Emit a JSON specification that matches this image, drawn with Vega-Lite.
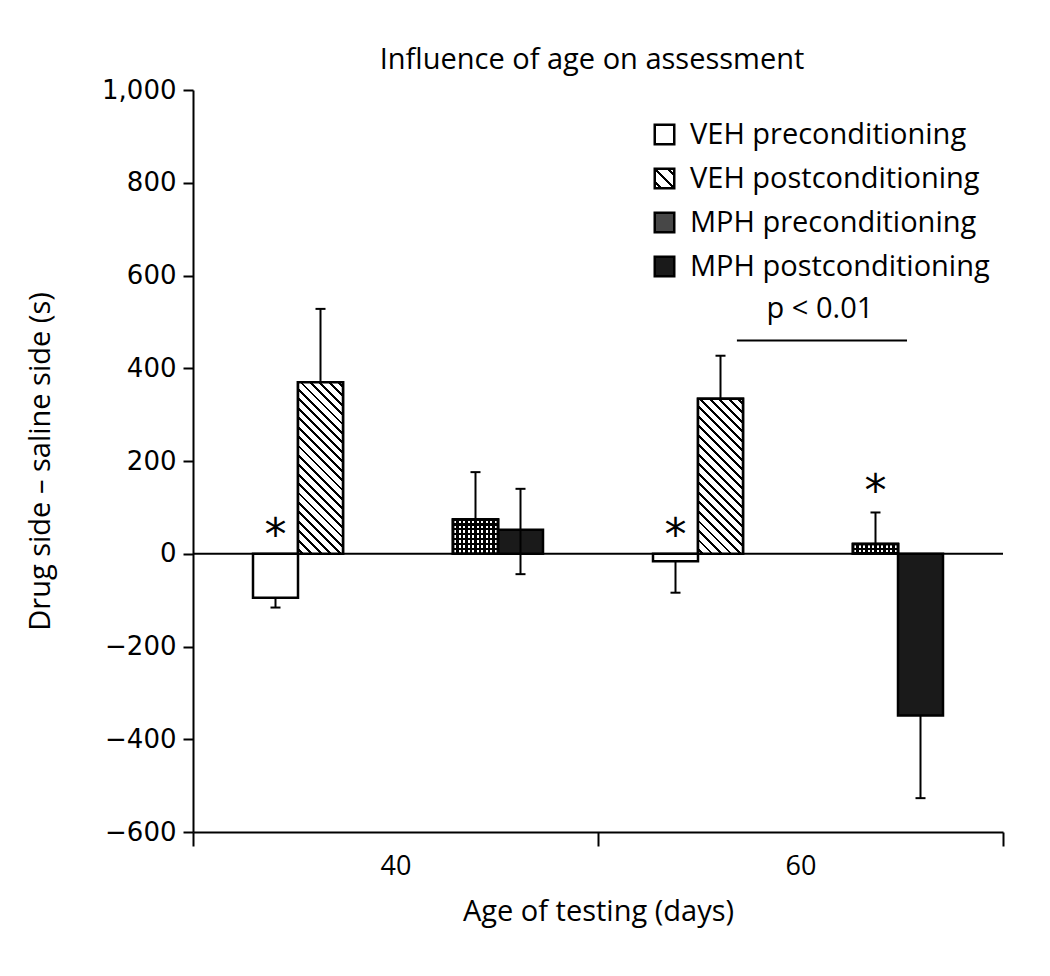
{
  "$schema": "https://vega.github.io/schema/vega-lite/v6.json",
  "width": 810,
  "height": 742,
  "autosize": {"type": "none"},
  "padding": {"left": 193, "top": 90, "right": 47, "bottom": 144},
  "background": "white",
  "title": {"text": "Influence of age on assessment", "font": "Open Sans", "fontSize": 29, "fontWeight": "normal", "color": "black", "anchor": "middle", "offset": 2, "dx": -6},
  "datasets": {
    "bars": [
      {"slot": "40 VEH", "phase": "pre", "series": "VEH preconditioning", "value": -95, "e1": -116, "e2": -95, "cap2": null, "star": 58},
      {"slot": "40 VEH", "phase": "post", "series": "VEH postconditioning", "value": 370, "e1": 528, "e2": 370, "cap2": null, "star": null},
      {"slot": "40 MPH", "phase": "pre", "series": "MPH preconditioning", "value": 74, "e1": 176, "e2": 74, "cap2": null, "star": null},
      {"slot": "40 MPH", "phase": "post", "series": "MPH postconditioning", "value": 52, "e1": 140, "e2": -44, "cap2": -44, "star": null},
      {"slot": "60 VEH", "phase": "pre", "series": "VEH preconditioning", "value": -16, "e1": -84, "e2": -16, "cap2": null, "star": 58},
      {"slot": "60 VEH", "phase": "post", "series": "VEH postconditioning", "value": 334, "e1": 427, "e2": 334, "cap2": null, "star": null},
      {"slot": "60 MPH", "phase": "pre", "series": "MPH preconditioning", "value": 21, "e1": 89, "e2": 21, "cap2": null, "star": 152},
      {"slot": "60 MPH", "phase": "post", "series": "MPH postconditioning", "value": -349, "e1": -527, "e2": -349, "cap2": null, "star": null}
    ],
    "notes": [
      {"age": "60", "label": "p < 0.01", "ly": 460, "ty": 508}
    ]
  },
  "layer": [
    {
      "layer": [
        {
          "data": {"values": [{}]},
          "mark": {"type": "rule", "strokeWidth": 2, "color": "black"},
          "encoding": {"y": {"datum": 0, "type": "quantitative", "title": "Drug side – saline side (s)", "scale": {"domain": [-600, 1000], "nice": false},
            "axis": {"values": [-600, -400, -200, 0, 200, 400, 600, 800, 1000], "format": ",.0f", "title": "Drug side – saline side (s)", "labelFont": "DejaVu Sans", "labelFontSize": 26}}}
        },
        {
          "data": {"name": "bars"},
          "mark": {"type": "bar", "stroke": "black", "strokeWidth": 2.5},
          "encoding": {
            "x": {"field": "slot", "type": "nominal", "scale": {"type": "band", "domain": ["40 VEH", "40 MPH", "60 VEH", "60 MPH"], "paddingInner": 0.55, "paddingOuter": 0.3}, "axis": null},
            "xOffset": {"field": "phase", "type": "nominal", "scale": {"domain": ["pre", "post"], "paddingInner": 0, "paddingOuter": 0}},
            "y": {"field": "value", "type": "quantitative", "title": "Drug side – saline side (s)", "scale": {"domain": [-600, 1000], "nice": false},
              "axis": {"values": [-600, -400, -200, 0, 200, 400, 600, 800, 1000], "format": ",.0f", "title": "Drug side – saline side (s)", "labelFont": "DejaVu Sans", "labelFontSize": 26}},
            "fill": {"field": "series", "type": "nominal",
              "scale": {"domain": ["VEH preconditioning", "VEH postconditioning", "MPH preconditioning", "MPH postconditioning"],
                "range": ["white", {"expr": "{gradient: 'linear', x1: 0, y1: 1, x2: 1, y2: 0, stops: [{offset: 0, color: 'white'}, {offset: 0.125, color: 'white'}, {offset: 0.125, color: 'black'}, {offset: 0.215, color: 'black'}, {offset: 0.215, color: 'white'}, {offset: 0.455, color: 'white'}, {offset: 0.455, color: 'black'}, {offset: 0.545, color: 'black'}, {offset: 0.545, color: 'white'}, {offset: 0.785, color: 'white'}, {offset: 0.785, color: 'black'}, {offset: 0.875, color: 'black'}, {offset: 0.875, color: 'white'}, {offset: 1, color: 'white'}]}"}, "#474747", "#1a1a1a"]},
              "legend": {"orient": "none", "legendX": 457, "legendY": 30, "title": null, "symbolType": "square", "symbolSize": 380, "symbolStrokeColor": "black", "symbolStrokeWidth": 2.5, "labelFont": "Open Sans", "labelFontSize": 29, "labelColor": "black", "labelOffset": 11, "labelLimit": 500, "rowPadding": 13, "padding": 0}}
          }
        },
        {
          "data": {"name": "bars"},
          "transform": [{"filter": "datum.slot === '40 VEH' && datum.phase === 'post'"}],
          "mark": {"type": "bar", "stroke": "black", "strokeWidth": 2.5, "fill": {"gradient": "linear", "x1": 0, "y1": 1, "x2": 0.3097, "y2": -0.1811, "stops": [
            {"offset": 0, "color": "white"},
            {"offset": 0.0152, "color": "white"}, {"offset": 0.0152, "color": "black"}, {"offset": 0.0282, "color": "black"}, {"offset": 0.0282, "color": "white"},
            {"offset": 0.0587, "color": "white"}, {"offset": 0.0587, "color": "black"}, {"offset": 0.0717, "color": "black"}, {"offset": 0.0717, "color": "white"},
            {"offset": 0.1022, "color": "white"}, {"offset": 0.1022, "color": "black"}, {"offset": 0.1152, "color": "black"}, {"offset": 0.1152, "color": "white"},
            {"offset": 0.1457, "color": "white"}, {"offset": 0.1457, "color": "black"}, {"offset": 0.1587, "color": "black"}, {"offset": 0.1587, "color": "white"},
            {"offset": 0.1892, "color": "white"}, {"offset": 0.1892, "color": "black"}, {"offset": 0.2022, "color": "black"}, {"offset": 0.2022, "color": "white"},
            {"offset": 0.2326, "color": "white"}, {"offset": 0.2326, "color": "black"}, {"offset": 0.2456, "color": "black"}, {"offset": 0.2456, "color": "white"},
            {"offset": 0.2761, "color": "white"}, {"offset": 0.2761, "color": "black"}, {"offset": 0.2891, "color": "black"}, {"offset": 0.2891, "color": "white"},
            {"offset": 0.3196, "color": "white"}, {"offset": 0.3196, "color": "black"}, {"offset": 0.3326, "color": "black"}, {"offset": 0.3326, "color": "white"},
            {"offset": 0.3631, "color": "white"}, {"offset": 0.3631, "color": "black"}, {"offset": 0.3761, "color": "black"}, {"offset": 0.3761, "color": "white"},
            {"offset": 0.4065, "color": "white"}, {"offset": 0.4065, "color": "black"}, {"offset": 0.4195, "color": "black"}, {"offset": 0.4195, "color": "white"},
            {"offset": 0.4500, "color": "white"}, {"offset": 0.4500, "color": "black"}, {"offset": 0.4630, "color": "black"}, {"offset": 0.4630, "color": "white"},
            {"offset": 0.4935, "color": "white"}, {"offset": 0.4935, "color": "black"}, {"offset": 0.5065, "color": "black"}, {"offset": 0.5065, "color": "white"},
            {"offset": 0.5370, "color": "white"}, {"offset": 0.5370, "color": "black"}, {"offset": 0.5500, "color": "black"}, {"offset": 0.5500, "color": "white"},
            {"offset": 0.5805, "color": "white"}, {"offset": 0.5805, "color": "black"}, {"offset": 0.5935, "color": "black"}, {"offset": 0.5935, "color": "white"},
            {"offset": 0.6239, "color": "white"}, {"offset": 0.6239, "color": "black"}, {"offset": 0.6369, "color": "black"}, {"offset": 0.6369, "color": "white"},
            {"offset": 0.6674, "color": "white"}, {"offset": 0.6674, "color": "black"}, {"offset": 0.6804, "color": "black"}, {"offset": 0.6804, "color": "white"},
            {"offset": 0.7109, "color": "white"}, {"offset": 0.7109, "color": "black"}, {"offset": 0.7239, "color": "black"}, {"offset": 0.7239, "color": "white"},
            {"offset": 0.7544, "color": "white"}, {"offset": 0.7544, "color": "black"}, {"offset": 0.7674, "color": "black"}, {"offset": 0.7674, "color": "white"},
            {"offset": 0.7978, "color": "white"}, {"offset": 0.7978, "color": "black"}, {"offset": 0.8108, "color": "black"}, {"offset": 0.8108, "color": "white"},
            {"offset": 0.8413, "color": "white"}, {"offset": 0.8413, "color": "black"}, {"offset": 0.8543, "color": "black"}, {"offset": 0.8543, "color": "white"},
            {"offset": 0.8848, "color": "white"}, {"offset": 0.8848, "color": "black"}, {"offset": 0.8978, "color": "black"}, {"offset": 0.8978, "color": "white"},
            {"offset": 0.9283, "color": "white"}, {"offset": 0.9283, "color": "black"}, {"offset": 0.9413, "color": "black"}, {"offset": 0.9413, "color": "white"},
            {"offset": 0.9718, "color": "white"}, {"offset": 0.9718, "color": "black"}, {"offset": 0.9848, "color": "black"}, {"offset": 0.9848, "color": "white"},
            {"offset": 1, "color": "white"}]}},
          "encoding": {
            "x": {"field": "slot", "type": "nominal", "axis": null},
            "xOffset": {"field": "phase", "type": "nominal"},
            "y": {"field": "value", "type": "quantitative", "title": "Drug side – saline side (s)"}
          }
        },
        {
          "data": {"name": "bars"},
          "transform": [{"filter": "datum.slot === '60 VEH' && datum.phase === 'post'"}],
          "mark": {"type": "bar", "stroke": "black", "strokeWidth": 2.5, "fill": {"gradient": "linear", "x1": 0, "y1": 1, "x2": 0.3458, "y2": -0.1901, "stops": [
            {"offset": 0, "color": "white"},
            {"offset": 0.0167, "color": "white"}, {"offset": 0.0167, "color": "black"}, {"offset": 0.0309, "color": "black"}, {"offset": 0.0309, "color": "white"},
            {"offset": 0.0643, "color": "white"}, {"offset": 0.0643, "color": "black"}, {"offset": 0.0785, "color": "black"}, {"offset": 0.0785, "color": "white"},
            {"offset": 0.1119, "color": "white"}, {"offset": 0.1119, "color": "black"}, {"offset": 0.1261, "color": "black"}, {"offset": 0.1261, "color": "white"},
            {"offset": 0.1596, "color": "white"}, {"offset": 0.1596, "color": "black"}, {"offset": 0.1738, "color": "black"}, {"offset": 0.1738, "color": "white"},
            {"offset": 0.2072, "color": "white"}, {"offset": 0.2072, "color": "black"}, {"offset": 0.2214, "color": "black"}, {"offset": 0.2214, "color": "white"},
            {"offset": 0.2548, "color": "white"}, {"offset": 0.2548, "color": "black"}, {"offset": 0.2690, "color": "black"}, {"offset": 0.2690, "color": "white"},
            {"offset": 0.3024, "color": "white"}, {"offset": 0.3024, "color": "black"}, {"offset": 0.3166, "color": "black"}, {"offset": 0.3166, "color": "white"},
            {"offset": 0.3500, "color": "white"}, {"offset": 0.3500, "color": "black"}, {"offset": 0.3642, "color": "black"}, {"offset": 0.3642, "color": "white"},
            {"offset": 0.3977, "color": "white"}, {"offset": 0.3977, "color": "black"}, {"offset": 0.4119, "color": "black"}, {"offset": 0.4119, "color": "white"},
            {"offset": 0.4453, "color": "white"}, {"offset": 0.4453, "color": "black"}, {"offset": 0.4595, "color": "black"}, {"offset": 0.4595, "color": "white"},
            {"offset": 0.4929, "color": "white"}, {"offset": 0.4929, "color": "black"}, {"offset": 0.5071, "color": "black"}, {"offset": 0.5071, "color": "white"},
            {"offset": 0.5405, "color": "white"}, {"offset": 0.5405, "color": "black"}, {"offset": 0.5547, "color": "black"}, {"offset": 0.5547, "color": "white"},
            {"offset": 0.5881, "color": "white"}, {"offset": 0.5881, "color": "black"}, {"offset": 0.6023, "color": "black"}, {"offset": 0.6023, "color": "white"},
            {"offset": 0.6358, "color": "white"}, {"offset": 0.6358, "color": "black"}, {"offset": 0.6500, "color": "black"}, {"offset": 0.6500, "color": "white"},
            {"offset": 0.6834, "color": "white"}, {"offset": 0.6834, "color": "black"}, {"offset": 0.6976, "color": "black"}, {"offset": 0.6976, "color": "white"},
            {"offset": 0.7310, "color": "white"}, {"offset": 0.7310, "color": "black"}, {"offset": 0.7452, "color": "black"}, {"offset": 0.7452, "color": "white"},
            {"offset": 0.7786, "color": "white"}, {"offset": 0.7786, "color": "black"}, {"offset": 0.7928, "color": "black"}, {"offset": 0.7928, "color": "white"},
            {"offset": 0.8262, "color": "white"}, {"offset": 0.8262, "color": "black"}, {"offset": 0.8404, "color": "black"}, {"offset": 0.8404, "color": "white"},
            {"offset": 0.8739, "color": "white"}, {"offset": 0.8739, "color": "black"}, {"offset": 0.8881, "color": "black"}, {"offset": 0.8881, "color": "white"},
            {"offset": 0.9215, "color": "white"}, {"offset": 0.9215, "color": "black"}, {"offset": 0.9357, "color": "black"}, {"offset": 0.9357, "color": "white"},
            {"offset": 0.9691, "color": "white"}, {"offset": 0.9691, "color": "black"}, {"offset": 0.9833, "color": "black"}, {"offset": 0.9833, "color": "white"},
            {"offset": 1, "color": "white"}]}},
          "encoding": {
            "x": {"field": "slot", "type": "nominal", "axis": null},
            "xOffset": {"field": "phase", "type": "nominal"},
            "y": {"field": "value", "type": "quantitative", "title": "Drug side – saline side (s)"}
          }
        },
        {
          "data": {"name": "bars"},
          "transform": [{"filter": "datum.series === 'MPH preconditioning'"}],
          "mark": {"type": "bar", "stroke": "black", "strokeWidth": 2.5, "fill": {"gradient": "linear", "x1": 0, "y1": 0, "x2": 1, "y2": 0, "stops": [
            {"offset": 0, "color": "black"},
            {"offset": 0.025, "color": "black"}, {"offset": 0.025, "color": "white"}, {"offset": 0.075, "color": "white"}, {"offset": 0.075, "color": "black"},
            {"offset": 0.125, "color": "black"}, {"offset": 0.125, "color": "white"}, {"offset": 0.175, "color": "white"}, {"offset": 0.175, "color": "black"},
            {"offset": 0.225, "color": "black"}, {"offset": 0.225, "color": "white"}, {"offset": 0.275, "color": "white"}, {"offset": 0.275, "color": "black"},
            {"offset": 0.325, "color": "black"}, {"offset": 0.325, "color": "white"}, {"offset": 0.375, "color": "white"}, {"offset": 0.375, "color": "black"},
            {"offset": 0.425, "color": "black"}, {"offset": 0.425, "color": "white"}, {"offset": 0.475, "color": "white"}, {"offset": 0.475, "color": "black"},
            {"offset": 0.525, "color": "black"}, {"offset": 0.525, "color": "white"}, {"offset": 0.575, "color": "white"}, {"offset": 0.575, "color": "black"},
            {"offset": 0.625, "color": "black"}, {"offset": 0.625, "color": "white"}, {"offset": 0.675, "color": "white"}, {"offset": 0.675, "color": "black"},
            {"offset": 0.725, "color": "black"}, {"offset": 0.725, "color": "white"}, {"offset": 0.775, "color": "white"}, {"offset": 0.775, "color": "black"},
            {"offset": 0.825, "color": "black"}, {"offset": 0.825, "color": "white"}, {"offset": 0.875, "color": "white"}, {"offset": 0.875, "color": "black"},
            {"offset": 0.925, "color": "black"}, {"offset": 0.925, "color": "white"}, {"offset": 0.975, "color": "white"}, {"offset": 0.975, "color": "black"},
            {"offset": 1, "color": "black"}]}},
          "encoding": {
            "x": {"field": "slot", "type": "nominal", "axis": null},
            "xOffset": {"field": "phase", "type": "nominal"},
            "y": {"field": "value", "type": "quantitative", "title": "Drug side – saline side (s)"}
          }
        },
        {
          "data": {"name": "bars"},
          "transform": [{"filter": "datum.slot === '40 MPH' && datum.phase === 'pre'"}],
          "mark": {"type": "bar", "stroke": "black", "strokeWidth": 2.5, "fill": {"gradient": "linear", "x1": 0, "y1": 0, "x2": 0, "y2": 1, "stops": [
            {"offset": 0, "color": "black"},
            {"offset": 0.0364, "color": "black"}, {"offset": 0.0364, "color": "rgba(0,0,0,0)"}, {"offset": 0.1064, "color": "rgba(0,0,0,0)"}, {"offset": 0.1064, "color": "black"},
            {"offset": 0.1793, "color": "black"}, {"offset": 0.1793, "color": "rgba(0,0,0,0)"}, {"offset": 0.2493, "color": "rgba(0,0,0,0)"}, {"offset": 0.2493, "color": "black"},
            {"offset": 0.3221, "color": "black"}, {"offset": 0.3221, "color": "rgba(0,0,0,0)"}, {"offset": 0.3921, "color": "rgba(0,0,0,0)"}, {"offset": 0.3921, "color": "black"},
            {"offset": 0.4650, "color": "black"}, {"offset": 0.4650, "color": "rgba(0,0,0,0)"}, {"offset": 0.5350, "color": "rgba(0,0,0,0)"}, {"offset": 0.5350, "color": "black"},
            {"offset": 0.6079, "color": "black"}, {"offset": 0.6079, "color": "rgba(0,0,0,0)"}, {"offset": 0.6779, "color": "rgba(0,0,0,0)"}, {"offset": 0.6779, "color": "black"},
            {"offset": 0.7507, "color": "black"}, {"offset": 0.7507, "color": "rgba(0,0,0,0)"}, {"offset": 0.8207, "color": "rgba(0,0,0,0)"}, {"offset": 0.8207, "color": "black"},
            {"offset": 0.8936, "color": "black"}, {"offset": 0.8936, "color": "rgba(0,0,0,0)"}, {"offset": 0.9636, "color": "rgba(0,0,0,0)"}, {"offset": 0.9636, "color": "black"},
            {"offset": 1, "color": "black"}]}},
          "encoding": {
            "x": {"field": "slot", "type": "nominal", "axis": null},
            "xOffset": {"field": "phase", "type": "nominal"},
            "y": {"field": "value", "type": "quantitative", "title": "Drug side – saline side (s)"}
          }
        },
        {
          "data": {"name": "bars"},
          "transform": [{"filter": "datum.slot === '60 MPH' && datum.phase === 'pre'"}],
          "mark": {"type": "bar", "stroke": "black", "strokeWidth": 2.5, "fill": {"gradient": "linear", "x1": 0, "y1": 0, "x2": 0, "y2": 1, "stops": [
            {"offset": 0, "color": "black"},
            {"offset": 0.13, "color": "black"}, {"offset": 0.13, "color": "rgba(0,0,0,0)"}, {"offset": 0.37, "color": "rgba(0,0,0,0)"}, {"offset": 0.37, "color": "black"},
            {"offset": 0.63, "color": "black"}, {"offset": 0.63, "color": "rgba(0,0,0,0)"}, {"offset": 0.87, "color": "rgba(0,0,0,0)"}, {"offset": 0.87, "color": "black"},
            {"offset": 1, "color": "black"}]}},
          "encoding": {
            "x": {"field": "slot", "type": "nominal", "axis": null},
            "xOffset": {"field": "phase", "type": "nominal"},
            "y": {"field": "value", "type": "quantitative", "title": "Drug side – saline side (s)"}
          }
        },
        {
          "data": {"name": "bars"},
          "mark": {"type": "rule", "strokeWidth": 2, "color": "black"},
          "encoding": {
            "x": {"field": "slot", "type": "nominal", "axis": null},
            "xOffset": {"field": "phase", "type": "nominal"},
            "y": {"field": "e1", "type": "quantitative", "title": "Drug side – saline side (s)"},
            "y2": {"field": "e2"}
          }
        },
        {
          "data": {"name": "bars"},
          "mark": {"type": "tick", "orient": "horizontal", "size": 10, "thickness": 2, "color": "black", "opacity": 1},
          "encoding": {
            "x": {"field": "slot", "type": "nominal", "axis": null},
            "xOffset": {"field": "phase", "type": "nominal"},
            "y": {"field": "e1", "type": "quantitative", "title": "Drug side – saline side (s)"}
          }
        },
        {
          "data": {"name": "bars"},
          "transform": [{"filter": "datum.cap2 != null"}],
          "mark": {"type": "tick", "orient": "horizontal", "size": 10, "thickness": 2, "color": "black", "opacity": 1},
          "encoding": {
            "x": {"field": "slot", "type": "nominal", "axis": null},
            "xOffset": {"field": "phase", "type": "nominal"},
            "y": {"field": "cap2", "type": "quantitative", "title": "Drug side – saline side (s)"}
          }
        },
        {
          "data": {"name": "bars"},
          "transform": [{"filter": "datum.star != null"}],
          "mark": {"type": "text", "text": "*", "font": "DejaVu Sans", "fontSize": 44, "baseline": "middle", "align": "center", "dy": 10, "color": "black"},
          "encoding": {
            "x": {"field": "slot", "type": "nominal", "axis": null},
            "xOffset": {"field": "phase", "type": "nominal"},
            "y": {"field": "star", "type": "quantitative", "title": "Drug side – saline side (s)"}
          }
        }
      ]
    },
    {
      "data": {"name": "notes"},
      "layer": [
        {
          "mark": {"type": "rule", "strokeWidth": 2, "color": "black"},
          "encoding": {
            "x": {"field": "age", "type": "nominal", "bandPosition": 0.343, "title": "Age of testing (days)",
              "scale": {"type": "band", "domain": ["40", "60"], "paddingInner": 0, "paddingOuter": 0},
              "axis": {"title": "Age of testing (days)", "tickBand": "extent"}},
            "x2": {"field": "age", "bandPosition": 0.763},
            "y": {"field": "ly", "type": "quantitative", "title": "Drug side – saline side (s)", "scale": {"domain": [-600, 1000], "nice": false},
              "axis": {"values": [-600, -400, -200, 0, 200, 400, 600, 800, 1000], "format": ",.0f", "title": "Drug side – saline side (s)", "labelFont": "DejaVu Sans", "labelFontSize": 26}}
          }
        },
        {
          "mark": {"type": "text", "font": "Open Sans", "fontSize": 29, "baseline": "alphabetic", "align": "center", "color": "black"},
          "encoding": {
            "x": {"field": "age", "type": "nominal", "bandPosition": 0.548, "title": "Age of testing (days)"},
            "y": {"field": "ty", "type": "quantitative", "title": "Drug side – saline side (s)"},
            "text": {"field": "label"}
          }
        }
      ]
    }
  ],
  "resolve": {"scale": {"x": "independent"}, "axis": {"x": "independent"}},
  "config": {
    "view": {"stroke": null},
    "font": "Open Sans",
    "axis": {"domainColor": "black", "tickColor": "black", "labelColor": "black", "titleColor": "black", "titleFontWeight": "normal", "grid": false, "domainWidth": 2, "tickWidth": 2},
    "axisY": {"labelFont": "DejaVu Sans", "labelFontSize": 26, "labelPadding": 7, "tickSize": 10, "titleFont": "Open Sans", "titleFontSize": 29, "titleX": -153, "titleBaseline": "middle"},
    "axisX": {"tickSize": 14, "tickBand": "extent", "labelAngle": 0, "labelFont": "Open Sans", "labelFontSize": 27, "labelPadding": 7, "titleFont": "Open Sans", "titleFontSize": 29, "titlePadding": 18}
  }
}
